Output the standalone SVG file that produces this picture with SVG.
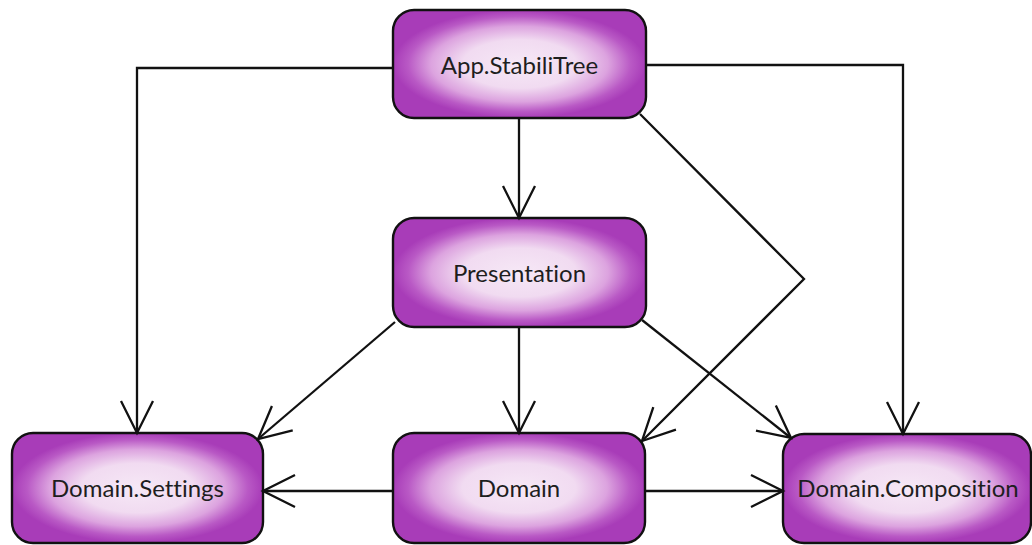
<svg xmlns="http://www.w3.org/2000/svg" width="1032" height="545" viewBox="0 0 1032 545">
  <style>
    .box { stroke: #111; stroke-width: 2.4; fill: url(#glow); }
    .lbl { font-family: Lato, "Open Sans", "Liberation Sans", sans-serif; font-size: 24px; fill: #1e1e1e; text-anchor: middle; font-variant-ligatures: none; }
    .edge { fill: none; stroke: #111; stroke-width: 2.3; marker-end: url(#arrow); }
  </style>
  <defs>
    <radialGradient id="glow" cx="0.5" cy="0.5" r="0.5">
      <stop offset="0" stop-color="#f6e8f6"/>
      <stop offset="0.45" stop-color="#f1dbf1"/>
      <stop offset="0.7" stop-color="#dca3df"/>
      <stop offset="0.88" stop-color="#b959c5"/>
      <stop offset="1" stop-color="#a83cb8"/>
    </radialGradient>
    <marker id="arrow" markerUnits="userSpaceOnUse" viewBox="-2 -18 36 36" markerWidth="36" markerHeight="36" refX="32" refY="0" orient="auto" overflow="visible">
      <path d="M0,-16 L32,0 L0,16" fill="none" stroke="#111" stroke-width="2.3"/>
    </marker>
  </defs>

  <g id="node-app">
    <rect class="box" x="393" y="10" width="253" height="108" rx="21"/>
    <text class="lbl" x="519.5" y="74">App.StabiliTree</text>
  </g>
  <g id="node-presentation">
    <rect class="box" x="393" y="218" width="253" height="109" rx="21"/>
    <text class="lbl" x="519.5" y="282">Presentation</text>
  </g>
  <g id="node-settings">
    <rect class="box" x="12" y="433" width="251" height="110" rx="21"/>
    <text class="lbl" x="137.5" y="497">Domain.Settings</text>
  </g>
  <g id="node-domain">
    <rect class="box" x="393" y="433" width="252" height="110" rx="21"/>
    <text class="lbl" x="519" y="497">Domain</text>
  </g>
  <g id="node-composition">
    <rect class="box" x="783" y="434" width="248" height="109" rx="21"/>
    <text class="lbl" x="908" y="497">Domain.Composition</text>
  </g>

  <g id="connectors">
    <path class="edge" d="M393,68 H137 V433"/>
    <path class="edge" d="M646,65 H903 V434"/>
    <path class="edge" d="M519,118 V218"/>
    <path class="edge" d="M640,114 L804,279 L642,441"/>
    <path class="edge" d="M395,322 L258,439"/>
    <path class="edge" d="M519,327 V433"/>
    <path class="edge" d="M642,320 L791,438"/>
    <path class="edge" d="M393,491 H263"/>
    <path class="edge" d="M645,491 H783"/>
  </g>
</svg>
